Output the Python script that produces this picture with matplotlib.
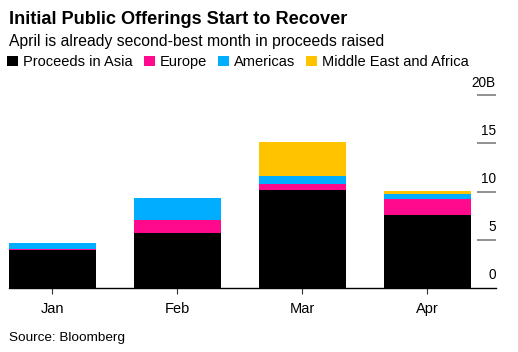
import numpy as np
import matplotlib.pyplot as plt

plt.rcParams['font.family'] = ['Liberation Sans', 'DejaVu Sans']

months = ["Jan", "Feb", "Mar", "Apr"]
asia = [3.9, 5.7, 10.15, 7.6]
europe = [0.1, 1.35, 0.6, 1.65]
americas = [0.6, 2.25, 0.85, 0.5]
mideast = [0.0, 0.0, 3.6, 0.25]
series_names = ["Proceeds in Asia", "Europe", "Americas", "Middle East and Africa"]
colors = ["#000000", "#ff0a8c", "#00adff", "#ffc300"]
yticks = [0, 5, 10, 15, 20]
ylabels = ["0", "5", "10", "15", "20B"]

W, H = 518, 352
fig = plt.figure(figsize=(W / 100, H / 100), dpi=100)
ax = fig.add_axes([9 / W, 1 - 287.5 / H, (496 - 9) / W, (287.5 - 95.5) / H])

x = np.arange(len(months))
bottom = np.zeros(len(months))
for vals, col, name in zip([asia, europe, americas, mideast], colors, series_names):
    ax.bar(x, vals, width=0.696, bottom=bottom, color=col, label=name, linewidth=0)
    bottom += np.array(vals)

ax.set_xlim(-0.348, 3.552)
ax.set_ylim(0, 20)

for s in ["top", "left", "right"]:
    ax.spines[s].set_visible(False)
ax.spines["bottom"].set_linewidth(1.0)

ax.set_xticks(x)
ax.set_xticklabels(months, fontsize=10.5)
ax.tick_params(axis="x", length=4.3, width=0.8, color="#333333", pad=6)

# right side y ticks pointing inward, labels sit above them
ax.yaxis.tick_right()
ax.set_yticks(yticks[1:])
ax.set_yticklabels([])
ax.tick_params(axis="y", direction="in", length=13.7, width=1.3, color="#888888")
for v, lab in zip(yticks, ylabels):
    ax.annotate(lab, xy=(1.0, v), xycoords=("axes fraction", "data"),
                xytext=(0, 4), textcoords="offset points",
                ha="right", va="bottom", fontsize=9.8, annotation_clip=False)

fig.text(9 / W, 1 - 24.5 / H, "Initial Public Offerings Start to Recover",
         fontsize=13.1, fontweight="bold", va="baseline")
fig.text(9 / W, 1 - 45.7 / H, "April is already second-best month in proceeds raised",
         fontsize=11.3, va="baseline")

leg = fig.legend(loc="upper left", bbox_to_anchor=(7 / W, 1 - 55 / H), ncol=4,
                 frameon=False, fontsize=10.5, handlelength=0.75, handleheight=0.75,
                 handletextpad=0.35, columnspacing=0.75, borderaxespad=0, borderpad=0)

fig.text(9 / W, 1 - 341 / H, "Source: Bloomberg", fontsize=9.7, va="baseline")

fig.savefig("out.png", dpi=100)
